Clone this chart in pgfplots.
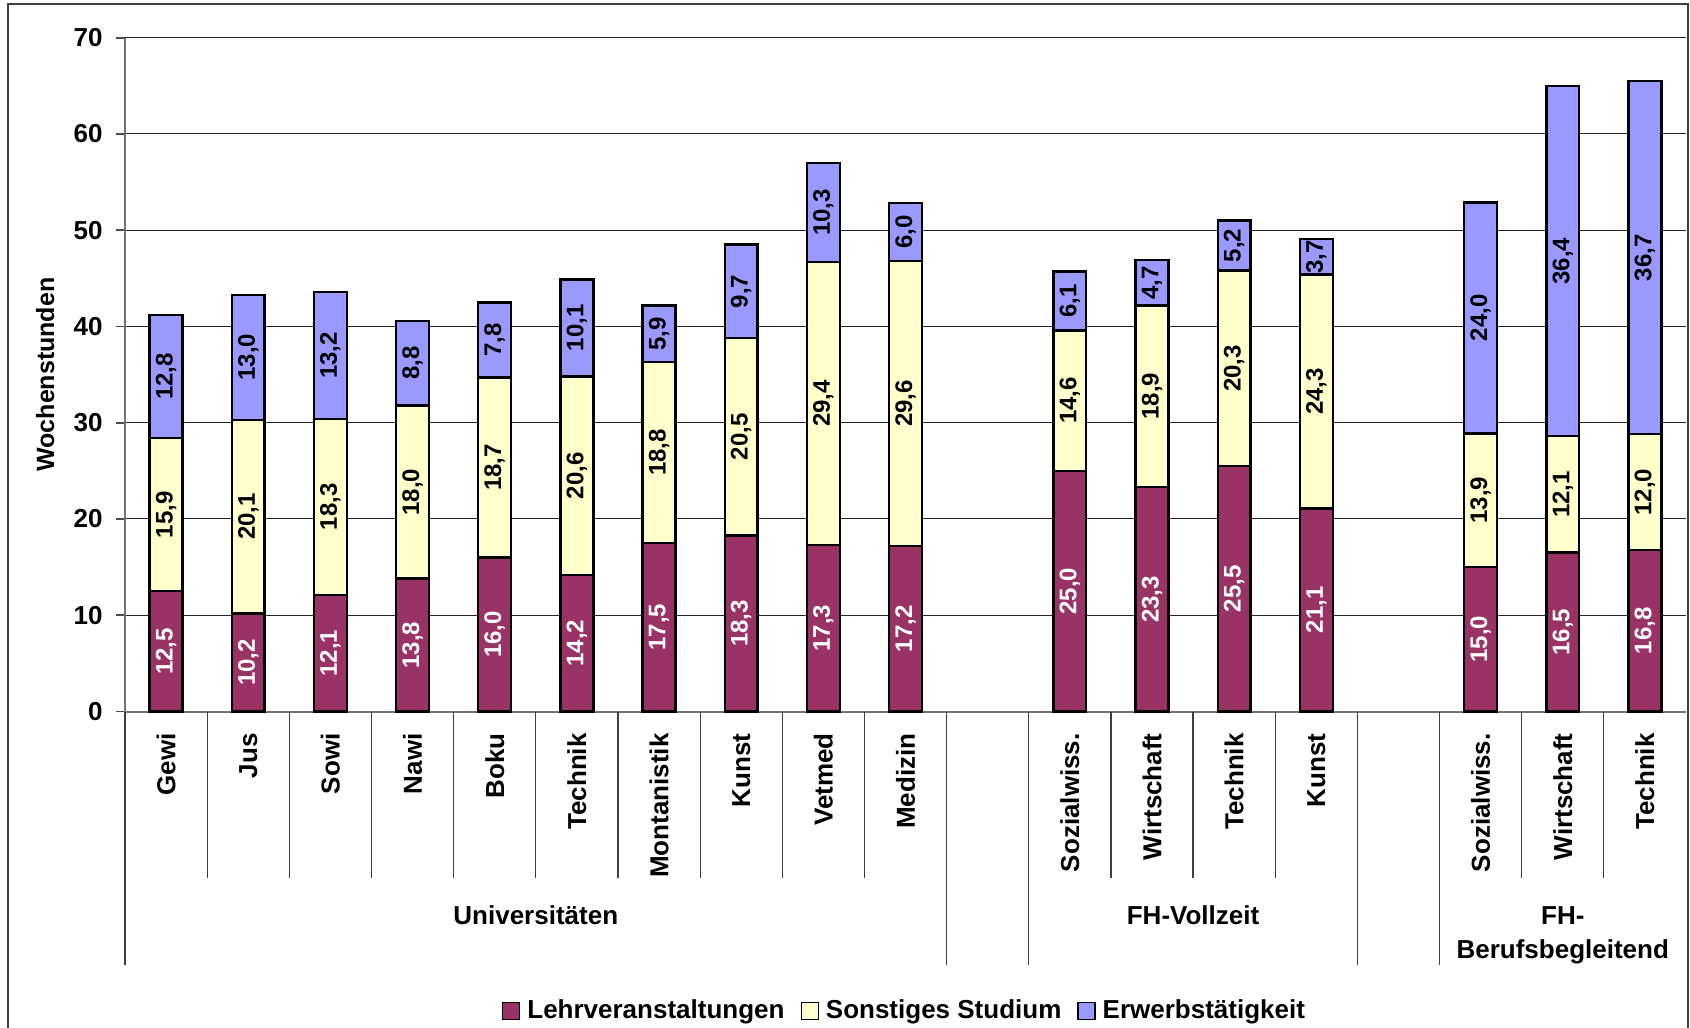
\documentclass[border=0pt]{standalone}
\usepackage{fontspec}
\setmainfont{Liberation Sans}
\usepackage{pgfplots}
\usepackage{pgfplotstable}
\pgfplotsset{compat=1.18}

\definecolor{lehr}{HTML}{993366}
\definecolor{sonst}{HTML}{FFFFCC}
\definecolor{erwerb}{HTML}{9999FF}

\newcommand\fs[1]{\fontsize{#1bp}{#1bp}\selectfont\bfseries}

% Wochenstunden je Studienrichtung
\pgfplotstableread{
x  L    S    E
0  12.5 15.9 12.8
1  10.2 20.1 13.0
2  12.1 18.3 13.2
3  13.8 18.0 8.8
4  16.0 18.7 7.8
5  14.2 20.6 10.1
6  17.5 18.8 5.9
7  18.3 20.5 9.7
8  17.3 29.4 10.3
9  17.2 29.6 6.0
11 25.0 14.6 6.1
12 23.3 18.9 4.7
13 25.5 20.3 5.2
14 21.1 24.3 3.7
16 15.0 13.9 24.0
17 16.5 12.1 36.4
18 16.8 12.0 36.7
}\data

\begin{document}
\begin{tikzpicture}
\useasboundingbox (-62.5bp,-158.25bp) rectangle (782.5bp,355.75bp);
\draw[black!75, line width=0.8bp] (-58.5bp,-158.25bp) -- (-58.5bp,353.75bp)
  -- (781.5bp,353.75bp) -- (781.5bp,-158.25bp);
\begin{axis}[
    at={(0,0)}, anchor=south west,
    scale only axis, width=780.5bp, height=336.9bp,
    xmin=-0.5, xmax=18.5, ymin=0, ymax=70,
    ybar stacked, bar width=0.4,
    clip=false,
    axis x line*=bottom, axis y line*=left,
    axis line style={black!55, line width=1bp},
    ytick={0,10,...,70},
    ymajorgrids, grid style={black!85, line width=0.5bp},
    tick align=outside, major tick length=4.5bp,
    ytick style={black!70, line width=0.8bp},
    xtick style={draw=none},
    xtick={0,1,2,3,4,5,6,7,8,9,11,12,13,14,16,17,18},
    xticklabels={Gewi,Jus,Sowi,Nawi,Boku,Technik,Montanistik,Kunst,Vetmed,Medizin,
                 Sozialwiss.,Wirtschaft,Technik,Kunst,Sozialwiss.,Wirtschaft,Technik},
    xticklabel style={font=\fs{13}, inner sep=0pt, yshift=-6.25bp, rotate=90, anchor=east},
    yticklabel style={font=\fs{13}, inner sep=0pt, xshift=-6.5bp, anchor=east},
    /pgf/number format/assume math mode=true,
    ylabel={Wochenstunden},
    every axis y label/.style={at={(axis description cs:-0.0512,0.5)}, rotate=90,
        anchor=center, font=\fs{12.5}},
    point meta=explicit,
    nodes near coords={\pgfmathprintnumber[fixed,fixed zerofill,precision=1,use comma]{\pgfplotspointmeta}},
    nodes near coords align=center,
    every node near coord/.append style={anchor=center, font=\fs{12}, rotate=90, inner sep=0pt},
    legend style={at={(axis description cs:0.5,-0.4445)}, anchor=center, draw=none,
        legend columns=-1, font=\fs{13},
        /tikz/every even column/.append style={column sep=6bp},
        /tikz/every odd column/.append style={column sep=1.5bp}},
    legend image code/.code={\draw[#1, draw=black, line width=0.7bp]
        (0bp,-4.25bp) rectangle (8.5bp,4.25bp);},
]
\addplot[fill=lehr, draw=black, line width=1.2bp,
    nodes near coords style={text=white}] table[x=x, y=L, meta=L]{\data};
\addplot[fill=sonst, draw=black, line width=1.2bp] table[x=x, y=S, meta=S]{\data};
\addplot[fill=erwerb, draw=black, line width=1.2bp] table[x=x, y=E, meta=E]{\data};
\legend{Lehrveranstaltungen, Sonstiges Studium, Erwerbstätigkeit}

\pgfplotsinvokeforeach{0.5,1.5,2.5,3.5,4.5,5.5,6.5,7.5,8.5,11.5,12.5,13.5,16.5,17.5}{
  \draw[black!75, line width=0.6bp] (axis cs:#1,0) -- ([yshift=-83.25bp]axis cs:#1,0);}
\pgfplotsinvokeforeach{-0.5,9.5,10.5,14.5,15.5}{
  \draw[black!75, line width=0.6bp] (axis cs:#1,0) -- ([yshift=-126.75bp]axis cs:#1,0);}

\node[anchor=base, font=\fs{13}] at ([yshift=-106.5bp]axis cs:4.5,0) {Universitäten};
\node[anchor=base, font=\fs{13}] at ([yshift=-106.5bp]axis cs:12.5,0) {FH-Vollzeit};
\node[anchor=base, font=\fs{13}] at ([yshift=-106.5bp]axis cs:17,0) {FH-};
\node[anchor=base, font=\fs{13}] at ([yshift=-123.25bp]axis cs:17,0) {Berufsbegleitend};
\end{axis}
\end{tikzpicture}
\end{document}
